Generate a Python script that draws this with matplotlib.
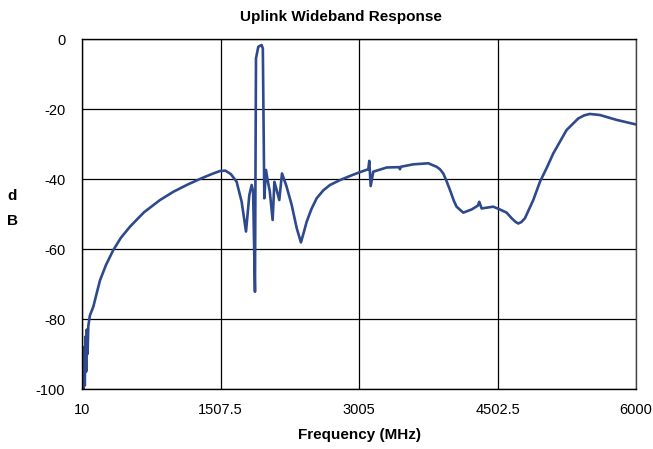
import matplotlib
matplotlib.use("Agg")
import matplotlib.pyplot as plt

plt.rcParams['font.family'] = ['Liberation Sans', 'DejaVu Sans']
plt.rcParams['axes.unicode_minus'] = False

freq_mhz = [10, 18, 25, 32, 40, 48, 55, 62, 70, 78, 95, 132, 170, 205, 270, 348, 430, 529, 680, 853,
            1000, 1150, 1300, 1420, 1502, 1560, 1620, 1682, 1736, 1783, 1819, 1844, 1860, 1880,
            1891, 1916, 1952, 1965, 1981, 1999, 2020, 2040, 2071, 2090, 2110, 2143, 2172, 2220,
            2277, 2331, 2377, 2405, 2439, 2490, 2547, 2620, 2691, 2799, 2900, 2997, 3105, 3116,
            3131, 3159, 3304, 3440, 3448, 3456, 3591, 3754, 3844, 3880, 3916, 3950, 3988, 4030,
            4060, 4132, 4222, 4290, 4305, 4331, 4456, 4529, 4601, 4655, 4700, 4727, 4760, 4799,
            4889, 4961, 5040, 5105, 5249, 5375, 5440, 5501, 5609, 5790, 6000]
response_db = [-99, -90, -100, -88, -99, -85, -95, -83, -90, -82, -79, -76.5, -72.5, -68.9, -64.5, -60.3,
               -56.8, -53.6, -49.5, -46, -43.6, -41.6, -39.8, -38.5, -37.7, -37.6, -38.6, -40.8,
               -46.5, -55, -44.6, -41.7, -43.6, -72.2, -5.5, -2.2, -1.7, -2.7, -45.5, -37.4, -40.8,
               -43.5, -51.7, -40.8, -42.7, -46, -38.4, -42, -47.4, -54, -58.1, -55.5, -52.2, -48.6,
               -45.5, -43.2, -41.7, -40.3, -39.2, -38.2, -37.2, -34.8, -42, -37.9, -36.7, -36.6,
               -37.2, -36.5, -35.8, -35.5, -36.5, -37.2, -38.4, -40.5, -43.1, -46.2, -47.9, -49.6,
               -48.7, -47.6, -46.5, -48.4, -47.9, -48.7, -49.6, -51.2, -52.3, -52.7, -52.3, -51.2,
               -46, -40.8, -36.5, -32.7, -26, -22.7, -21.8, -21.4, -21.7, -23.1, -24.4]

x_ticks = [10, 1507.5, 3005, 4502.5, 6000]
x_tick_labels = ["10", "1507.5", "3005", "4502.5", "6000"]
y_ticks = [-100, -80, -60, -40, -20, 0]

fig = plt.figure(figsize=(6.53, 4.49), dpi=100)
ax = fig.add_axes([0.1256, 0.1336, 0.8484, 0.7794])
ax.plot(freq_mhz, response_db, color='#2E4A8C', linewidth=1.9, solid_joinstyle='round')
ax.set_xlim(10, 6000)
ax.set_ylim(-100, 0)
ax.set_xticks(x_ticks)
ax.set_xticklabels(x_tick_labels)
ax.set_yticks(y_ticks)
ax.tick_params(axis='both', length=0, labelsize=10.5)
ax.tick_params(axis='y', pad=12)
ax.tick_params(axis='x', pad=10)
ax.grid(True, color='black', linewidth=0.9)
for side in ['left', 'top', 'bottom']:
    ax.spines[side].set_color('black')
ax.spines['right'].set_color('#444444')
for s in ax.spines.values():
    s.set_linewidth(1.0)
ax.set_axisbelow(True)

fig.text(341 / 653, 1 - 17 / 449, "Uplink Wideband Response", ha='center', va='center',
         fontsize=11, fontweight='bold')
ax.set_xlabel("Frequency (MHz)", fontsize=11, fontweight='bold', labelpad=8)
fig.text(12 / 653, 1 - 196 / 449, "d", ha='center', va='center', fontsize=11, fontweight='bold')
fig.text(12 / 653, 1 - 221 / 449, "B", ha='center', va='center', fontsize=11, fontweight='bold')

fig.savefig("out.png", dpi=100)
